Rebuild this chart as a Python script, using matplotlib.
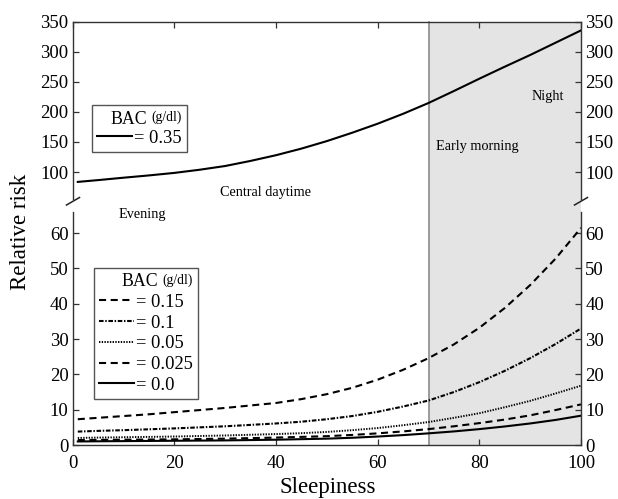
import matplotlib
matplotlib.use("Agg")
import matplotlib.pyplot as plt
import matplotlib.transforms as mtransforms
from matplotlib.patches import Rectangle
from matplotlib.lines import Line2D
from matplotlib.offsetbox import TextArea, HPacker

plt.rcParams['font.family'] = ['Liberation Serif', 'DejaVu Serif']

# ---------------- data ----------------
sleepiness = [1, 5, 10, 15, 20, 25, 30, 35, 40, 45, 50, 55, 60, 65, 70, 75, 80, 85, 90, 95, 100]
risk_035 = [83.5, 86.5, 90.5, 94.3, 98.5, 103.8, 110, 118.5, 128, 139, 151.5, 165.5, 180.5,
            197, 215, 235, 255.5, 275.5, 295, 315.5, 336]
risk_015 = [7.3, 7.7, 8.2, 8.7, 9.3, 9.9, 10.5, 11.2, 11.9, 13.0, 14.4, 16.2, 18.5,
            21.3, 24.6, 28.5, 33.2, 38.8, 45.3, 52.8, 61.5]
risk_010 = [3.8, 4.0, 4.2, 4.45, 4.7, 5.0, 5.3, 5.7, 6.1, 6.6, 7.3, 8.2, 9.4,
            10.9, 12.6, 15.0, 17.8, 21.0, 24.6, 28.6, 33.0]
risk_005 = [2.0, 2.1, 2.2, 2.3, 2.4, 2.55, 2.7, 2.9, 3.1, 3.35, 3.7, 4.2, 4.8,
            5.6, 6.5, 7.7, 9.0, 10.7, 12.5, 14.6, 16.8]
risk_0025 = [1.4, 1.45, 1.5, 1.55, 1.6, 1.7, 1.8, 1.95, 2.1, 2.3, 2.5, 2.85, 3.3,
             3.85, 4.5, 5.3, 6.2, 7.2, 8.4, 9.9, 11.5]
risk_000 = [1.0, 1.05, 1.1, 1.15, 1.2, 1.25, 1.3, 1.4, 1.5, 1.65, 1.8, 2.05, 2.4,
            2.8, 3.3, 3.85, 4.5, 5.25, 6.1, 7.1, 8.3]
labels_bottom = ['= 0.15', '= 0.1', '= 0.05', '= 0.025', '= 0.0']
label_top = '= 0.35'
shade_start, shade_end = 70, 100
top_yticks = [100, 150, 200, 250, 300, 350]
bottom_yticks = [0, 10, 20, 30, 40, 50, 60]
xticks = [0, 20, 40, 60, 80, 100]

W, H = 618, 499
fig = plt.figure(figsize=(W / 100, H / 100), dpi=100)

L, R = 72.7 / W, 581 / W
top_t, top_b = 1 - 22 / H, 1 - 199 / H
bot_t, bot_b = 1 - 212 / H, 1 - 445 / H

ax_bot = fig.add_axes([L, bot_b, R - L, bot_t - bot_b])
ax_top = fig.add_axes([L, top_b, R - L, top_t - top_b])
ax_top.set_zorder(3)
for ax in (ax_top, ax_bot):
    ax.set_facecolor('none')
    ax.set_xlim(0, 100)
    for s in ax.spines.values():
        s.set_color('#333333')
        s.set_linewidth(1.0)
    ax.tick_params(direction='in', length=4, width=0.9, color='#333333',
                   labelsize=13.5, left=True, right=True,
                   labelleft=True, labelright=True, pad=3)

ax_top.set_ylim(55, 350)
ax_bot.set_ylim(0, 66)
ax_top.spines['bottom'].set_visible(False)
ax_bot.spines['top'].set_visible(False)
ax_top.set_yticks(top_yticks)
ax_bot.set_yticks(bottom_yticks)
ax_top.set_xticks(xticks)
ax_top.tick_params(axis='x', top=True, bottom=False, labeltop=False, labelbottom=False)
ax_bot.set_xticks(xticks)
ax_bot.tick_params(axis='x', top=False, bottom=True, labelbottom=True, pad=7)

# shaded region across both axes and the gap
tr = mtransforms.blended_transform_factory(ax_bot.transData, fig.transFigure)
ax_bot.add_patch(Rectangle((shade_start, bot_b), shade_end - shade_start, top_t - bot_b,
                           transform=tr, facecolor='#e4e4e4', edgecolor='none',
                           clip_on=False, zorder=0))
ax_bot.add_line(Line2D([shade_start, shade_start], [bot_b, top_t], transform=tr,
                       color='#8a8a8a', lw=1.2, clip_on=False, zorder=1))

lw = 1.5
top_handle, = ax_top.plot(sleepiness, risk_035, color='black', lw=lw)

l1, = ax_bot.plot(sleepiness, risk_015, color='black', lw=lw, ls=(0, (3.4, 2.2)))
l2, = ax_bot.plot(sleepiness, risk_010, color='black', lw=lw, ls=(0, (2.2, 0.8, 0.7, 0.8)))
l3, = ax_bot.plot(sleepiness, risk_005, color='black', lw=1.4, ls=(0, (0.7, 0.7)))
l4, = ax_bot.plot(sleepiness, risk_0025, color='black', lw=lw, ls=(0, (3.4, 2.2)))
l5, = ax_bot.plot(sleepiness, risk_000, color='black', lw=lw)


def make_legend(ax, handles, labels, loc, spacing):
    leg = ax.legend(handles, labels, loc='upper left', bbox_to_anchor=loc,
                    title='BAC (g/dl)', fontsize=13.3, title_fontsize=12.5,
                    frameon=True, fancybox=False, edgecolor='#555555',
                    framealpha=1, handlelength=1.9, handletextpad=0.1,
                    labelspacing=spacing, borderpad=0.3, borderaxespad=0)
    leg.get_frame().set_linewidth(1.0)
    try:
        box = HPacker(children=[TextArea('BAC', textprops=dict(size=12.8)),
                                TextArea('(g/dl)', textprops=dict(size=9.8))],
                      align='top', pad=0, sep=3)
        box.set_figure(fig)
        leg._legend_box._children[0] = box
        leg._legend_title_box = box
        leg._legend_box.align = 'right'
    except Exception:
        pass
    return leg

make_legend(ax_top, [top_handle], [label_top], (0.037, 0.531), 0.12)
make_legend(ax_bot, [l1, l2, l3, l4, l5], labels_bottom, (0.041, 0.761), 0.2)

# annotations
ax_bot.text(13.6, 65.2, 'Evening', fontsize=10.3, ha='center', va='center', clip_on=False)
ax_top.text(38, 65.5, 'Central daytime', fontsize=10.3, ha='center', va='center')
ax_top.text(79.6, 142.7, 'Early morning', fontsize=10.3, ha='center', va='center')
ax_top.text(93.5, 226, 'Night', fontsize=10.3, ha='center', va='center')

# break marks
for xpx in (73.0, 581.0):
    fig.add_artist(Line2D([(xpx - 6.5) / W, (xpx + 6.5) / W],
                          [1 - 205 / H, 1 - 197.5 / H],
                          color='#222222', lw=1.1))

fig.text(21 / W, 1 - 232 / H, 'Relative risk', rotation=90, fontsize=16.5,
         ha='center', va='center')
fig.text(328 / W, 1 - 487 / H, 'Sleepiness', fontsize=16.5, ha='center', va='center')

fig.savefig('out.png', dpi=100)
